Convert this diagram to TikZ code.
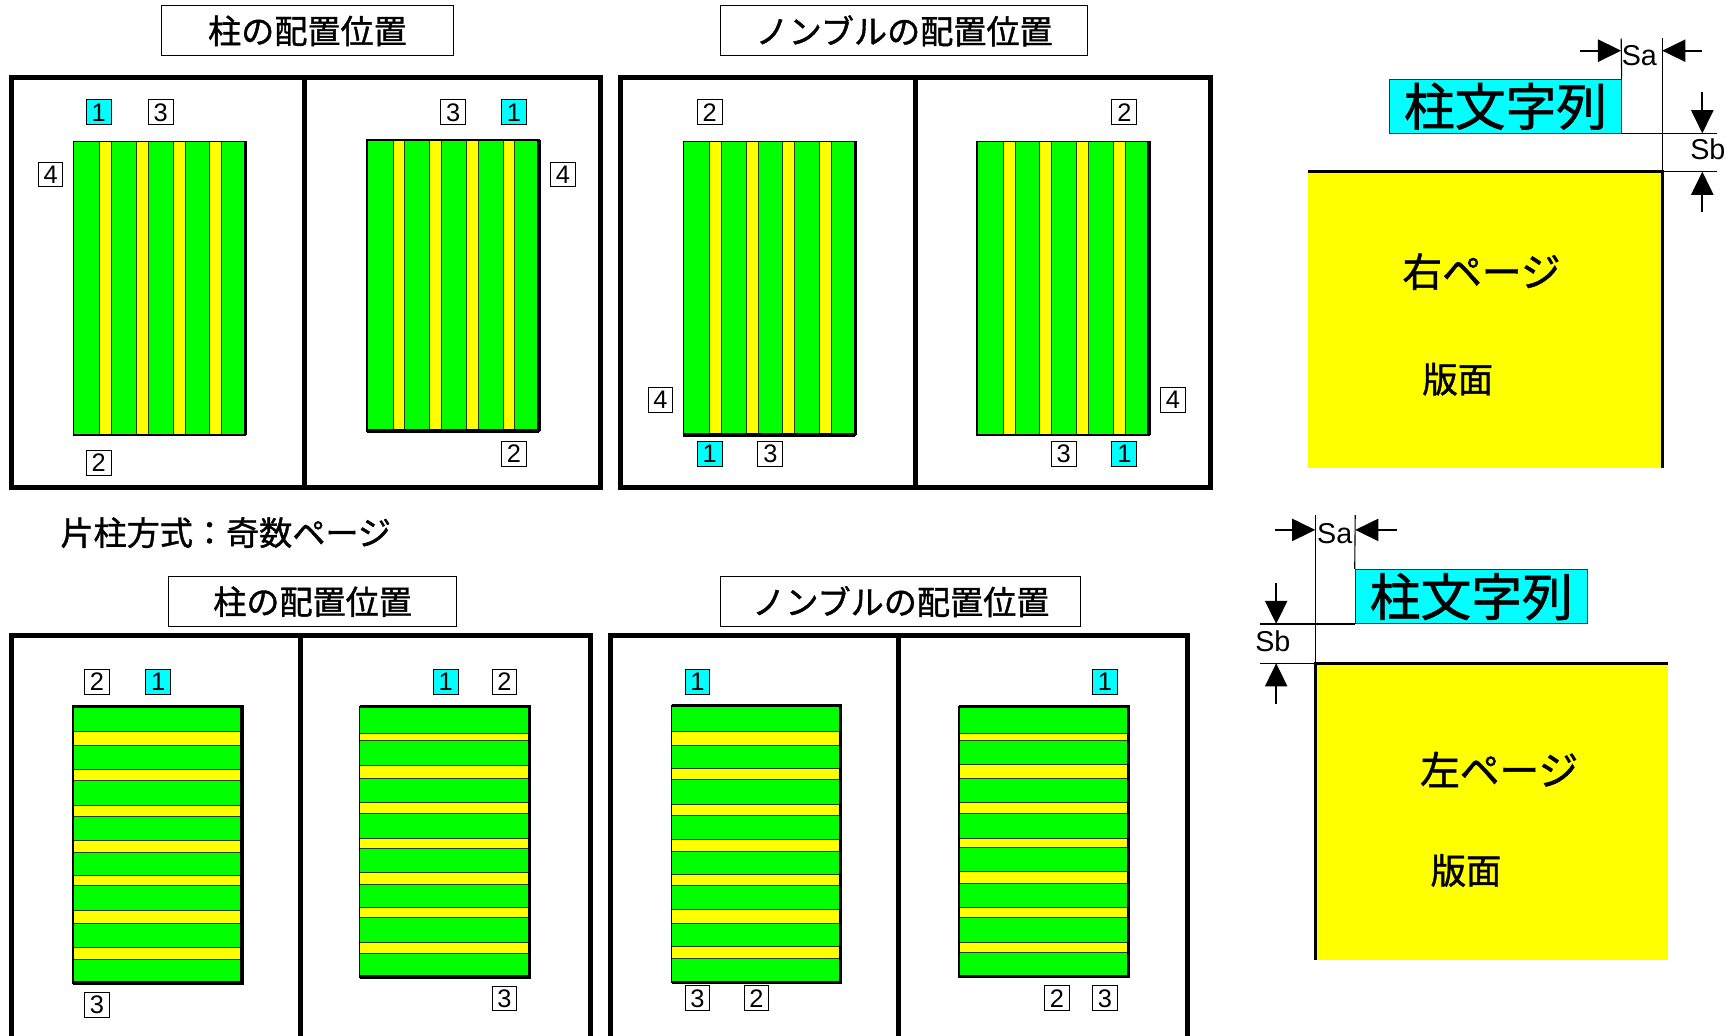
\documentclass[tikz,border=0pt]{standalone}
\usepackage{fontspec}
\setmainfont{Noto Sans CJK JP}
\newfontfamily\jpfont[FakeBold=1.2]{Noto Sans CJK JP}
\newfontfamily\digitfont{Liberation Sans}
\newfontfamily\latinfont{Liberation Sans}
\usetikzlibrary{arrows.meta}
\definecolor{pgreen}{RGB}{0,255,0}
\definecolor{pyellow}{RGB}{255,255,0}
\definecolor{pcyan}{RGB}{0,255,255}
\definecolor{stripeline}{RGB}{40,60,30}

\tikzset{
  pageframe/.style={line width=4.5pt},
  titlebox/.style={draw, line width=1pt, inner sep=0pt, font=\jpfont\fontsize{30}{30}\selectfont},
  subtitle/.style={inner sep=0pt, font=\jpfont\fontsize{30}{30}\selectfont},
  numbox/.style={draw, line width=0.9pt, minimum width=22.5pt, minimum height=22.5pt, inner sep=0pt, fill=white, font=\digitfont\fontsize{23}{23}\selectfont},
  numcyan/.style={numbox, fill=pcyan},
  colbox/.style={draw=black!80, line width=0.9pt, fill=pcyan, inner sep=0pt, font=\jpfont\fontsize{46}{46}\selectfont},
  pagetext/.style={inner sep=0pt, font=\jpfont\fontsize{36}{36}\selectfont},
  hantext/.style={inner sep=0pt, font=\jpfont\fontsize{32}{32}\selectfont},
  dimline/.style={line width=1pt},
  dimarrow/.style={line width=2pt, -{Triangle[length=21pt,width=20pt]}},
  pageedge/.style={line width=2.7pt},
  dimtext/.style={inner sep=0pt, font=\latinfont\fontsize{26}{26}\selectfont},
  band/.style={fill=pyellow, draw=stripeline, line width=0.8pt},
  blockborder/.style={line width=1.3pt},
  blockthick/.style={line width=3pt},
}

% vertical-striped text block: #1 x0, #2 y0, #3 y1
\newcommand\vstripeblock[3]{%
  \fill[pgreen] (#1,#2) rectangle (#1+155.8,#3);
  \foreach \a/\b in {23.7/34.5,57/67.8,90.2/101,123.3/134.1}{
    \filldraw[band] (#1+\a,#2) rectangle (#1+\b,#3);
  }
  \draw[blockborder] (#1,#2) rectangle (#1+155.8,#3);
  \draw[blockthick] (#1+155.8,#2) -- (#1+155.8,#3);
}
% horizontal-striped text block: #1 x0, #2 x1, #3 y0, #4 height, #5 bands
\newcommand\hstripeblock[5]{%
  \fill[pgreen] (#1,#3) rectangle (#2,#3+#4);
  \foreach \a/\b in {#5}{
    \filldraw[band] (#1,#3+\a) rectangle (#2,#3+\b);
  }
  \draw[blockborder] (#1,#3) rectangle (#2,#3+#4);
  \draw[blockthick] (#1,#3) -- (#2,#3) -- (#2,#3+#4) -- (#1,#3+#4);
}

\begin{document}
\begin{tikzpicture}[x=1pt,y=-1pt]
\useasboundingbox (0,0) rectangle (1568,938);
\clip (0,0) rectangle (1568,938);

% ---------- titles ----------
\node[titlebox, minimum width=265pt, minimum height=45.3pt] (t1) at (278.5,28) {柱の配置位置};
\node[titlebox, minimum width=332pt, minimum height=45.3pt] (t2) at (819,28) {ノンブルの配置位置};
\node[titlebox, minimum width=260.5pt, minimum height=45pt] (t3) at (283.2,545) {柱の配置位置};
\node[titlebox, minimum width=326pt, minimum height=45pt] (t4) at (816,545) {ノンブルの配置位置};
\node[subtitle] (sub) at (204.5,482.5) {片柱方式：奇数ページ};

% ---------- frames ----------
\draw[pageframe] (10,70) rectangle (544,442);
\draw[pageframe] (276,70) -- (276,442);
\draw[pageframe] (562.5,70) rectangle (1096.5,442);
\draw[pageframe] (829.5,70) -- (829.5,442);
\draw[pageframe] (10,576) rectangle (534.5,960);
\draw[pageframe] (272,576) -- (272,960);
\draw[pageframe] (553,576) rectangle (1076,960);
\draw[pageframe] (814,576) -- (814,960);

% ---------- top blocks ----------
\vstripeblock{66.6}{128}{394}
\vstripeblock{332.3}{126.8}{390.4}
\draw[blockthick] (332.3,390.4) -- (488.1,390.4);
\vstripeblock{619}{128}{394}
\draw[blockthick] (619,394) -- (774.8,394);
\vstripeblock{885}{128}{394}

% ---------- bottom blocks ----------
\hstripeblock{66.3}{219.3}{639.7}{250.8}{22.9/35.6,56.9/67.1,89.5/99.6,121.3/132.1,153.2/162.5,184.8/197.2,218.3/229.1}
\hstripeblock{325.8}{479.7}{640.2}{244.7}{24.2/30.4,52.7/65.1,86.8/96.9,119.3/127.9,149.7/160.5,182.2/191.1,213.7/223}
\hstripeblock{608.3}{761.2}{639.2}{250.8}{22.9/35.6,56.9/67.1,89.5/99.6,121.3/132.1,153.2/162.5,184.8/197.2,218.3/229.1}
\hstripeblock{868.7}{1022.5}{640.1}{244.7}{24.2/30.4,52.7/65.1,86.8/96.9,119.3/127.9,149.7/160.5,182.2/191.1,213.7/223}

% ---------- number labels, top ----------
\node[numcyan] (a1) at (89.5,101.8) {1};
\node[numbox]  (a3) at (145.5,101.8) {3};
\node[numbox]  (a4) at (45.8,158) {4};
\node[numbox]  (a2) at (89.5,419.3) {2};

\node[numbox]  (b3) at (410.5,101.8) {3};
\node[numcyan] (b1) at (465.5,101.8) {1};
\node[numbox]  (b4) at (510,158) {4};
\node[numbox]  (b2) at (465.5,411.3) {2};

\node[numbox]  (c2) at (642.8,101.8) {2};
\node[numbox]  (c4) at (598.3,362.3) {4};
\node[numcyan] (c1) at (642.8,411.3) {1};
\node[numbox]  (c3) at (697.8,411.3) {3};

\node[numbox]  (d2) at (1018.5,101.8) {2};
\node[numbox]  (d4) at (1062.5,362.3) {4};
\node[numbox]  (d3) at (963.5,411.3) {3};
\node[numcyan] (d1) at (1018.5,411.3) {1};

% ---------- number labels, bottom ----------
\node[numbox]  (e2) at (87.8,617.5) {2};
\node[numcyan] (e1) at (143.3,617.5) {1};
\node[numbox]  (e3) at (87.8,910.4) {3};

\node[numcyan] (f1) at (403.7,617.5) {1};
\node[numbox]  (f2) at (457,617.5) {2};
\node[numbox]  (f3) at (457,904.5) {3};

\node[numcyan] (g1) at (631.8,617.6) {1};
\node[numbox]  (g3) at (631.8,904.3) {3};
\node[numbox]  (g2) at (685.3,904.3) {2};

\node[numcyan] (h1) at (1000.8,617.6) {1};
\node[numbox]  (h2) at (957.5,904.3) {2};
\node[numbox]  (h3) at (1000.8,904.3) {3};

% ---------- top-right: right page ----------
\fill[pyellow] (1185,155.5) rectangle (1505.7,424.2);
\draw[pageedge] (1185,155.5) -- (1505.7,155.5) -- (1505.7,424.2);
\node[colbox, minimum width=209.5pt, minimum height=49pt] (trcol) at (1363.75,96.3) {柱文字列};
\node[pagetext] (trpage) at (1342,246) {右ページ};
\node[hantext] (trhan) at (1320.5,343.5) {版面};

\coordinate (trv1top) at (1468.5,34.7);
\coordinate (trv2top) at (1505.7,34.7);
\coordinate (trcorner) at (1505.7,155.5);
\coordinate (trh1end) at (1555,120.8);
\coordinate (trh1start) at (1468.5,120.8);
\coordinate (trh2end) at (1555,155.5);
\draw[dimline] (trcol.north east) -- (trv1top);
\draw[dimline] (trcorner) -- (trv2top);
\draw[dimline] (trh1start) -- (trh1end);
\draw[dimline] (trcorner) -- (trh2end);

\coordinate (trSaA) at (1431,45.9);
\coordinate (trSaAe) at (1468.5,45.9);
\coordinate (trSaB) at (1541.4,45.9);
\coordinate (trSaBe) at (1505.7,45.9);
\draw[dimarrow] (trSaA) -- (trSaAe);
\draw[dimarrow] (trSaB) -- (trSaBe);
\node[dimtext] (trSa) at (1485,50.5) {Sa};

\coordinate (trSbA) at (1542,83);
\coordinate (trSbAe) at (1542,120.8);
\coordinate (trSbB) at (1542,191.7);
\coordinate (trSbBe) at (1542,155.5);
\draw[dimarrow] (trSbA) -- (trSbAe);
\draw[dimarrow] (trSbB) -- (trSbBe);
\node[dimtext] (trSb) at (1547,135) {Sb};

% ---------- bottom-right: left page ----------
\fill[pyellow] (1191.4,600.8) rectangle (1510.7,869.6);
\draw[pageedge] (1510.7,600.8) -- (1191.4,600.8) -- (1191.4,869.6);
\node[colbox, minimum width=210.3pt, minimum height=49.5pt] (brcol) at (1332.75,540.45) {柱文字列};
\node[pagetext] (brpage) at (1358,697) {左ページ};
\node[hantext] (brhan) at (1328,788.5) {版面};

\coordinate (brv1top) at (1191.4,466.5);
\coordinate (brv2top) at (1227.6,466.5);
\coordinate (brcorner) at (1191.4,600.8);
\coordinate (brh1start) at (1141.6,565.2);
\coordinate (brh1end) at (1227.6,565.2);
\coordinate (brh2start) at (1141.6,600.8);
\draw[dimline] (brcorner) -- (brv1top);
\draw[dimline] (brcol.north west) -- (brv2top);
\draw[dimline] (brh1start) -- (brh1end);
\draw[dimline] (brh2start) -- (brcorner);

\coordinate (brSaA) at (1154.5,480);
\coordinate (brSaAe) at (1191.4,480);
\coordinate (brSaB) at (1265,480);
\coordinate (brSaBe) at (1227.6,480);
\draw[dimarrow] (brSaA) -- (brSaAe);
\draw[dimarrow] (brSaB) -- (brSaBe);
\node[dimtext] (brSa) at (1209,483) {Sa};

\coordinate (brSbA) at (1156,528.4);
\coordinate (brSbAe) at (1156,565.2);
\coordinate (brSbB) at (1156,637.7);
\coordinate (brSbBe) at (1156,600.8);
\draw[dimarrow] (brSbA) -- (brSbAe);
\draw[dimarrow] (brSbB) -- (brSbBe);
\node[dimtext] (brSb) at (1153,581) {Sb};

\end{tikzpicture}
\end{document}
